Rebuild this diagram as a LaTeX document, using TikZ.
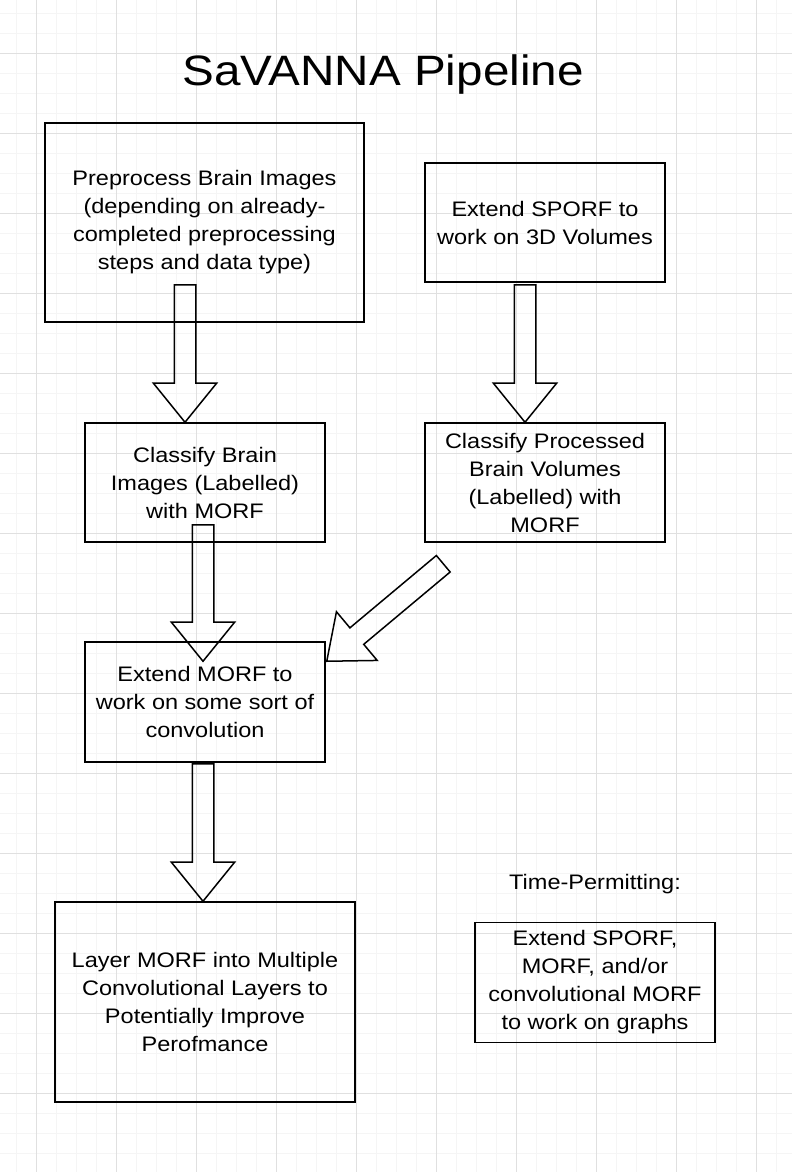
\documentclass[tikz,border=0pt]{standalone}
\usepackage{fontspec}
\setmainfont{Liberation Sans}[FakeStretch=1.12]
\usetikzlibrary{calc, shapes.arrows, positioning}
\tikzset{%
	stage/.style={
		draw,
		line width=1.5pt,
		align=center,
		inner sep=0pt,
		font=\fontsize{21}{28}\selectfont
	},
	minor grid/.style={draw=black!4, line width=0.8pt},
	major grid/.style={draw=black!12, line width=0.8pt},
	block arrow/.style={
		single arrow,
		draw,
		line width=1.5pt,
		minimum width=62pt,
		inner sep=10pt,
		outer sep=0pt,
		single arrow head extend=21pt,
		single arrow tip angle=78,
		anchor=tail
	},
}
\newcommand{\blockarrow}[2]{%
	\path let \p1=($(#2)-(#1)$), \n1={atan2(\y1,\x1)}, \n2={veclen(\x1,\y1)} in
		node[block arrow, rotate=\n1, minimum height=\n2] at (#1) {};
}

\begin{document}
\begin{tikzpicture}[x=1pt, y=-1pt]
	\useasboundingbox (0,0) rectangle (792,1172);
	
	% Background grid
	\begin{scope}
		\clip (0,0) rectangle (792,1172);
		\foreach \g in {-3.3,16.7,...,800} \draw[minor grid] (\g,0) -- (\g,1172);
		\foreach \g in {13.3,33.3,...,1180} \draw[minor grid] (0,\g) -- (792,\g);
		\foreach \g in {36.7,116.7,...,800} \draw[major grid] (\g,0) -- (\g,1172);
		\foreach \g in {53.3,133.3,...,1180} \draw[major grid] (0,\g) -- (792,\g);
	\end{scope}
	
	% Title
	\node (title) at (383,75) {\fontsize{42.5}{50}\selectfont SaVANNA Pipeline};
	
	% Pipeline stages
	\node[stage, minimum width=319pt, minimum height=199pt] (prep) at (204.5,222.5)
		{Preprocess Brain Images\\(depending on already-\\completed preprocessing\\steps and data type)};
	\node[stage, minimum width=240pt, minimum height=119pt] (sporf) at (545,222.5)
		{Extend SPORF to\\work on 3D Volumes};
	\node[stage, minimum width=240pt, minimum height=119pt] (classimg) at (205,482.5)
		{Classify Brain\\Images (Labelled)\\with MORF};
	\node[stage, minimum width=240pt, minimum height=119pt] (classvol) at (545,482.5)
		{Classify Processed\\Brain Volumes\\(Labelled) with\\MORF};
	\node[stage, minimum width=240pt, minimum height=120pt] (convmorf) at (205,702)
		{Extend MORF to\\work on some sort of\\convolution};
	\node[stage, minimum width=300pt, minimum height=200pt] (layers) at (205,1002)
		{Layer MORF into Multiple\\Convolutional Layers to\\Potentially Improve\\Perofmance};
	
	% Optional stage
	\node[font=\fontsize{21}{28}\selectfont] (timeperm) at (595,884) {Time-Permitting:};
	\node[stage, minimum width=240pt, minimum height=120pt] (graphs) at (595,982.5)
		{Extend SPORF,\\MORF, and/or\\convolutional MORF\\to work on graphs};
	
	% Arrow ends
	\coordinate (a1s) at ([xshift=-19.5pt, yshift=38pt]prep.south);
	\coordinate (a1e) at ([xshift=-20pt]classimg.north);
	\coordinate (a2s) at ([xshift=-20pt, yshift=-2pt]sporf.south);
	\coordinate (a2e) at ([xshift=-20pt]classvol.north);
	\coordinate (a3s) at ([xshift=-2pt, yshift=18pt]classimg.south);
	\coordinate (a3e) at ([xshift=-2pt, yshift=-20pt]convmorf.north);
	\coordinate (a4s) at ([xshift=19pt, yshift=-21pt]classvol.south west);
	\coordinate (a4e) at ([xshift=1pt, yshift=-20pt]convmorf.north east);
	\coordinate (a5s) at ([xshift=-2pt, yshift=-1pt]convmorf.south);
	\coordinate (a5e) at ([xshift=-2pt]layers.north);
	
	% Block arrows
	\blockarrow{a1s}{a1e}
	\blockarrow{a2s}{a2e}
	\blockarrow{a3s}{a3e}
	\blockarrow{a4s}{a4e}
	\blockarrow{a5s}{a5e}
\end{tikzpicture}
\end{document}
